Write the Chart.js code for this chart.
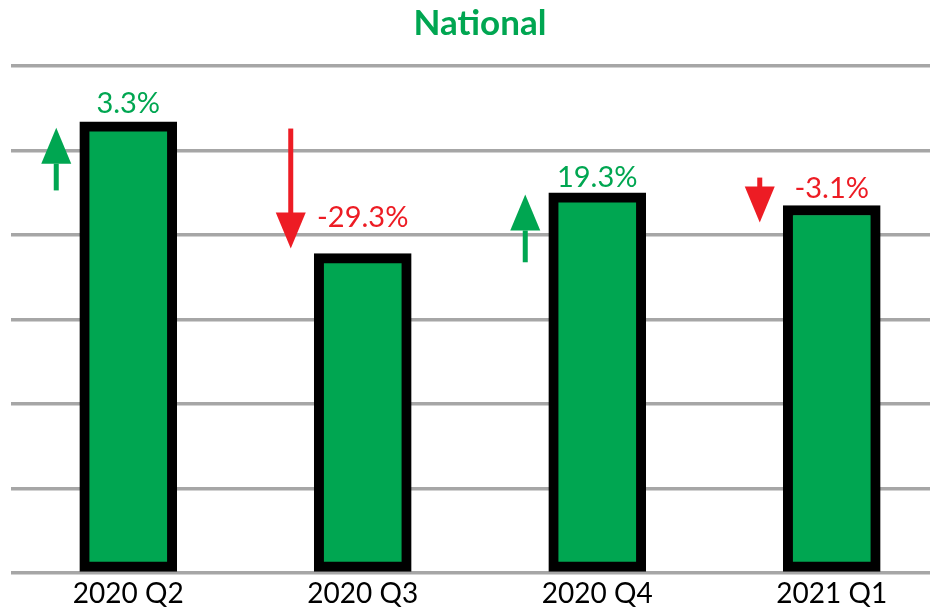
<!DOCTYPE html>
<html lang="en">
<head>
    <meta charset="UTF-8">
    <title>National</title>
    <script src="https://cdn.jsdelivr.net/npm/chart.js"></script>
    <style>
        body { margin: 0; overflow: hidden; background: #fff; }
    </style>
</head>
<body>
    <canvas id="myChart" width="955" height="614"></canvas>
    <script>
        // quarters and bar heights (read in gridline units, 0..6)
        const categories = ['2020 Q2', '2020 Q3', '2020 Q4', '2021 Q1'];
        const values = [5.34, 3.78, 4.50, 4.35];
        // change labels and where they sit (y in axis units)
        const changeLabels = ['3.3%', '-29.3%', '19.3%', '-3.1%'];
        const labelAt = [5.44, 4.10, 4.57, 4.44];
        // arrows beside each bar, from tail to tip in axis units
        const arrowFrom = [4.54, 5.26, 3.69, 4.68];
        const arrowTo = [5.27, 3.84, 4.48, 4.15];
        const yMax = 6;

        const GREEN = '#00a651';
        const RED = '#ed1c24';

        const annotations = {
            id: 'annotations',
            afterDatasetsDraw(chart) {
                const ctx = chart.ctx;
                const y = chart.scales.y;
                const bars = chart.getDatasetMeta(0).data;
                ctx.save();
                bars.forEach((bar, i) => {
                    const up = arrowTo[i] > arrowFrom[i];
                    const col = up ? GREEN : RED;
                    // arrow
                    const ax = bar.x - 72;
                    const y0 = y.getPixelForValue(arrowFrom[i]);
                    const y1 = y.getPixelForValue(arrowTo[i]);
                    const dir = up ? 1 : -1;
                    const headLen = 36, headHalf = 15;
                    const yb = y1 + dir * headLen;
                    ctx.fillStyle = col;
                    ctx.fillRect(ax - 2.5, Math.min(y0, yb), 5, Math.abs(y0 - yb) + 1);
                    ctx.beginPath();
                    ctx.moveTo(ax, y1);
                    ctx.lineTo(ax - headHalf, yb);
                    ctx.lineTo(ax + headHalf, yb);
                    ctx.closePath();
                    ctx.fill();
                    // label
                    ctx.font = '29px Lato';
                    ctx.textAlign = 'center';
                    ctx.textBaseline = 'alphabetic';
                    ctx.fillText(changeLabels[i], bar.x, y.getPixelForValue(labelAt[i]));
                });
                ctx.restore();
            }
        };

        const ctx = document.getElementById('myChart').getContext('2d');
        const myChart = new Chart(ctx, {
            type: 'bar',
            data: {
                labels: categories,
                datasets: [{
                    data: values,
                    backgroundColor: GREEN,
                    borderColor: '#000',
                    borderWidth: 10,
                    borderSkipped: false,
                    barThickness: 97
                }]
            },
            options: {
                responsive: false,
                animation: false,
                layout: { padding: { left: 11, right: 6, top: 0, bottom: 0 } },
                plugins: {
                    legend: { display: false },
                    tooltip: { enabled: false },
                    title: {
                        display: true,
                        text: 'National',
                        color: GREEN,
                        font: { family: 'Lato', size: 35, weight: 'bold' },
                        padding: { top: 3, bottom: 21 }
                    }
                },
                scales: {
                    x: {
                        grid: { display: false, drawTicks: false },
                        border: { display: false },
                        ticks: { color: '#000', font: { family: 'Lato', size: 28, lineHeight: 1.1 }, padding: 5 }
                    },
                    y: {
                        min: 0,
                        max: yMax,
                        ticks: { display: false, stepSize: 1 },
                        grid: { color: '#a6a6a6', lineWidth: 3.5, drawTicks: false },
                        border: { display: false }
                    }
                }
            },
            plugins: [annotations]
        });
    </script>
</body>
</html>
